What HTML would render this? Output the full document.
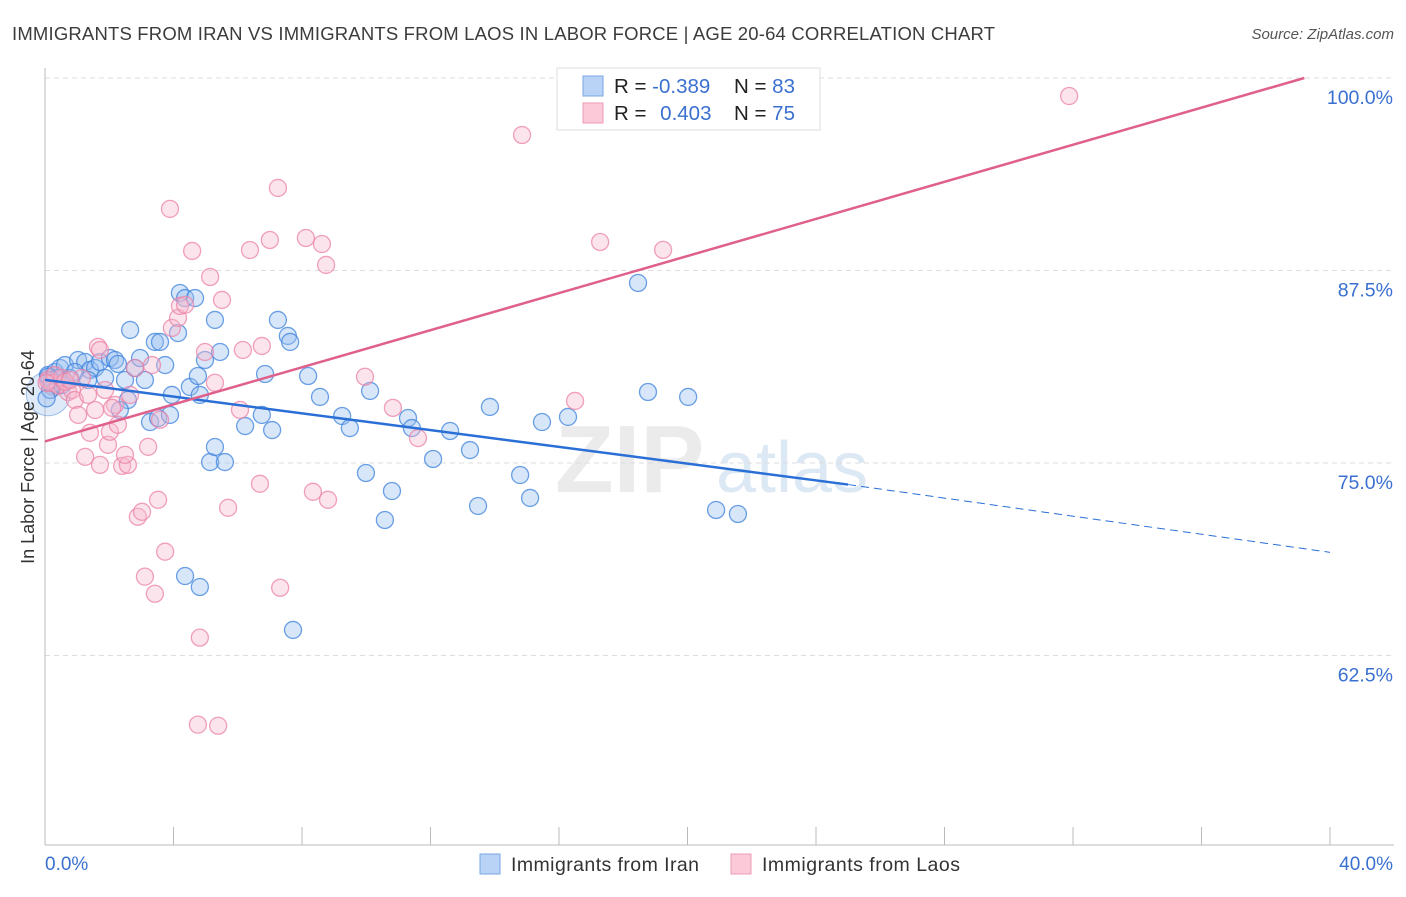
<!DOCTYPE html>
<html><head><meta charset="utf-8"><style>
body{margin:0;background:#fff;font-family:"Liberation Sans",sans-serif;}
svg text{font-family:"Liberation Sans",sans-serif;}
</style></head><body>
<svg id="chart" width="1406" height="892" xmlns="http://www.w3.org/2000/svg">
<text x="12" y="40" font-size="18.5" fill="#3c3c3c" textLength="983">IMMIGRANTS FROM IRAN VS IMMIGRANTS FROM LAOS IN LABOR FORCE | AGE 20-64 CORRELATION CHART</text>
<text x="1394" y="39" font-size="15" fill="#555" font-style="italic" text-anchor="end">Source: ZipAtlas.com</text>
<text x="555" y="492" font-size="96" fill="#ebebeb" font-weight="bold">ZIP</text>
<text x="716" y="492" font-size="72" fill="#dde8f5">atlas</text>
<g id="grid"></g><g id="axes"></g><g id="marks"></g><g id="lines"></g>
<text transform="translate(34,457) rotate(-90)" font-size="18" fill="#333" text-anchor="middle">In Labor Force | Age 20-64</text>
<g>
<rect x="557" y="68" width="263" height="62" fill="#fff" stroke="#ddd"/>
<rect x="583" y="76" width="20" height="20" fill="#b8d3f5" stroke="#7aa6e4"/>
<rect x="583" y="103" width="20" height="20" fill="#fbc9d8" stroke="#ee9ab4"/>
<text x="614" y="93" font-size="20.5" fill="#222">R = <tspan fill="#3a70d0">-0.389</tspan></text>
<text x="734" y="93" font-size="20.5" fill="#222">N = <tspan fill="#3a70d0">83</tspan></text>
<text x="614" y="120" font-size="20.5" fill="#222">R = <tspan fill="#3a70d0" dx="8">0.403</tspan></text>
<text x="734" y="120" font-size="20.5" fill="#222">N = <tspan fill="#3a70d0">75</tspan></text>
</g>
<g>
<rect x="480" y="854" width="20" height="20" fill="#b8d3f5" stroke="#7aa6e4"/>
<text x="511" y="871" font-size="19.5" fill="#333" textLength="188">Immigrants from Iran</text>
<rect x="731" y="854" width="20" height="20" fill="#fbc9d8" stroke="#ee9ab4"/>
<text x="762" y="871" font-size="19.5" fill="#333" textLength="198">Immigrants from Laos</text>
</g>
</svg>
<script>
const iranX=[0.09,0.31,0.47,0.62,0.78,1.03,1.25,1.40,1.56,1.71,1.87,2.02,2.18,2.49,2.58,2.65,2.80,2.96,3.11,3.27,3.42,3.58,3.52,3.74,3.95,4.14,4.20,4.36,4.67,4.51,4.76,4.98,4.82,5.29,5.45,5.14,5.29,5.60,6.23,6.75,6.85,7.07,7.25,7.56,7.63,7.72,4.36,4.82,8.19,8.56,9.25,9.49,10.12,9.99,10.58,10.80,11.30,11.42,12.08,12.61,13.23,13.48,13.85,14.79,15.10,15.47,16.28,18.46,18.77,20.02,20.89,21.57,0.16,0.22,0.40,0.53,0.93,2.33,2.27,1.34,3.89,0.05,0.1];
const iranY=[80.71,80.91,81.17,81.36,80.52,81.69,81.56,81.04,81.17,81.56,80.52,81.82,81.69,80.39,79.09,83.64,81.17,81.82,80.39,77.66,82.86,82.86,77.92,81.36,79.42,83.44,86.04,85.71,85.71,79.94,80.65,81.69,79.42,84.29,82.21,75.06,76.04,75.06,77.40,78.12,80.78,77.14,84.29,83.25,82.86,64.16,67.66,66.95,80.65,79.29,78.05,77.27,79.68,74.35,71.30,73.18,77.92,77.27,75.26,77.08,75.84,72.21,78.64,74.22,72.73,77.66,77.99,86.69,79.61,79.29,71.95,71.69,79.74,80.39,80.52,80.06,80.91,78.44,81.43,80.39,78.12,79.2,80.6];
const laosX=[0.09,0.22,0.40,0.53,0.72,0.84,0.93,1.03,1.25,1.40,1.56,1.65,1.71,1.87,1.96,2.02,2.18,2.27,2.40,2.58,2.65,2.80,2.89,3.02,3.11,3.21,3.33,3.42,3.52,3.58,3.74,3.89,3.95,4.14,4.20,4.36,4.58,4.82,4.76,4.98,5.14,5.29,5.39,5.51,5.70,6.07,6.16,6.38,6.69,6.75,7.00,7.25,7.32,8.12,8.34,8.62,8.75,8.81,9.96,10.83,11.61,14.85,16.50,17.28,19.24,31.88,0.31,0.62,1.15,1.34,2.09,2.49,1.71,0.78,0.05];
const laosY=[80.39,80.19,80.06,80.52,79.61,79.74,79.09,78.12,75.40,76.96,78.44,82.54,74.88,79.74,76.18,77.03,78.77,77.48,74.81,74.88,79.42,81.17,71.51,71.83,67.62,76.05,81.36,66.51,72.61,77.81,69.24,91.50,83.77,84.42,85.20,85.27,88.77,63.66,58.01,82.21,87.08,80.21,57.94,85.59,72.09,78.45,82.34,88.83,73.65,82.60,89.48,92.86,66.90,89.61,73.13,89.22,87.86,72.61,80.60,78.58,76.62,96.30,79.03,89.35,88.84,98.83,80.71,80.27,80.52,79.42,78.58,75.53,82.34,80.39,80.2];
const yTicks=[100,87.5,75,62.5];
const yTickLabels=["100.0%","87.5%","75.0%","62.5%"];
const xEnds=[0,40];
const xEndLabels=["0.0%","40.0%"];
const iranTrend=[[0,80.4],[25,73.6],[40,69.2]];
const laosTrend=[[0,76.4],[39.2,100]];
const NS="http://www.w3.org/2000/svg";
const sx=v=>45+v*1285/40, sy=v=>78+(100-v)*15.4;
function mk(tag,attrs,parent){const e=document.createElementNS(NS,tag);for(const k in attrs)e.setAttribute(k,attrs[k]);document.getElementById(parent).appendChild(e);return e;}
yTicks.forEach((t,i)=>{
 const g=mk('line',{x1:45,x2:1394,y1:sy(t),y2:sy(t),stroke:'#ddd','stroke-dasharray':'5,4'},'grid');
 
 
 const l=mk('text',{x:1393,y:sy(t)+26,'font-size':19.5,fill:'#3a70d0','text-anchor':'end'},'axes');
 l.textContent=yTickLabels[i];
 
 
});
const ya=mk('line',{x1:45,x2:45,y1:68,y2:845,stroke:'#bbb'},'axes');


const xa=mk('line',{x1:45,x2:1394,y1:845,y2:845,stroke:'#bbb'},'axes');


for(let i=0;i<=10;i++){const t=mk('line',{x1:sx(i*4),x2:sx(i*4),y1:827,y2:845,stroke:'#bbb'},'axes');
 
 }
xEnds.forEach((v,i)=>{const l=mk('text',{x:i?1393:45,y:870,'font-size':19,fill:'#3a70d0','text-anchor':i?'end':'start'},'axes');l.textContent=xEndLabels[i];
 
 });
const b1=mk('circle',{cx:sx(0.1),cy:sy(79.5),r:22,fill:'rgba(150,185,235,0.3)',stroke:'rgba(80,140,220,0.5)'},'marks');


const b2=mk('circle',{cx:sx(0.3),cy:sy(80.3),r:14,fill:'rgba(230,120,160,0.35)',stroke:'rgba(230,120,160,0.6)'},'marks');


iranX.forEach((x,i)=>{const c=mk('circle',{cx:sx(x),cy:sy(iranY[i]),r:8.5,fill:'rgba(150,190,240,0.38)',stroke:'rgba(60,130,220,0.75)','stroke-width':1.3},'marks');
 
 });
laosX.forEach((x,i)=>{const c=mk('circle',{cx:sx(x),cy:sy(laosY[i]),r:8.5,fill:'rgba(248,185,205,0.38)',stroke:'rgba(235,130,165,0.75)','stroke-width':1.3},'marks');
 
 });
const t1=mk('line',{x1:sx(iranTrend[0][0]),y1:sy(iranTrend[0][1]),x2:sx(iranTrend[1][0]),y2:sy(iranTrend[1][1]),stroke:'#2a6fd6','stroke-width':2.5},'lines');


const t2=mk('line',{x1:sx(iranTrend[1][0]),y1:sy(iranTrend[1][1]),x2:sx(iranTrend[2][0]),y2:sy(iranTrend[2][1]),stroke:'#2a6fd6','stroke-width':1,'stroke-dasharray':'8,5'},'lines');


const t3=mk('line',{x1:sx(laosTrend[0][0]),y1:sy(laosTrend[0][1]),x2:sx(laosTrend[1][0]),y2:sy(laosTrend[1][1]),stroke:'#e0608c','stroke-width':2.5},'lines');


</script>
</body></html>
